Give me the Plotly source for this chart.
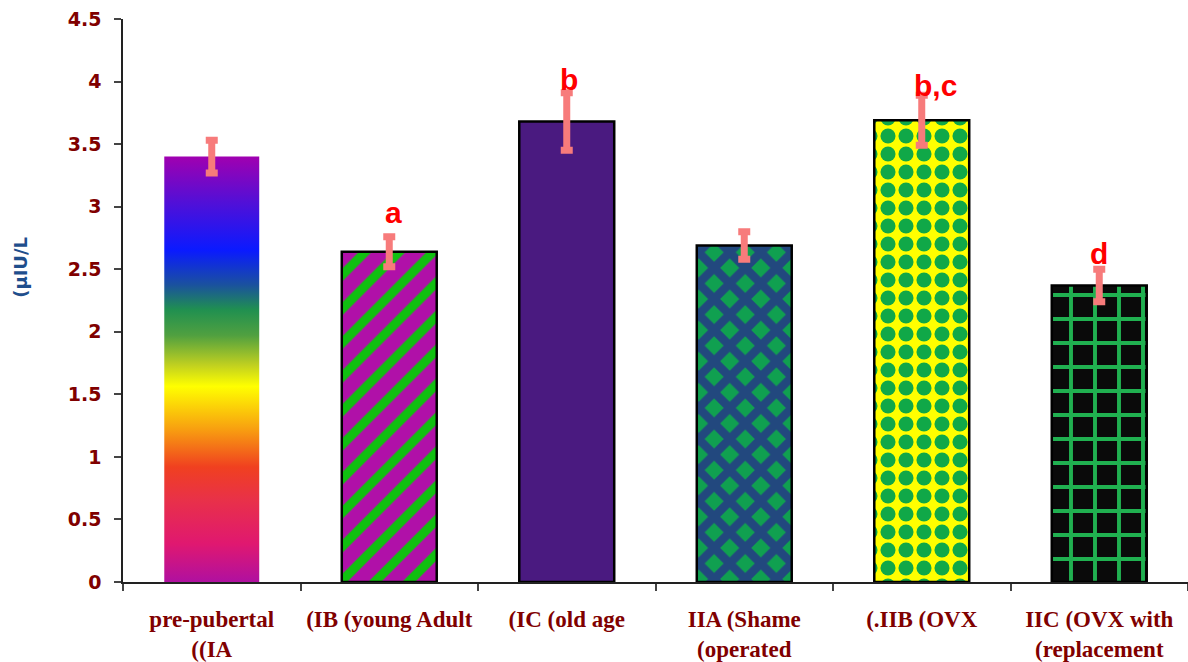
import plotly.graph_objects as go

# ---- data ----
groups = ["pre-pubertal<br>((IA", "(IB (young Adult", "(IC (old age",
          "IIA (Shame<br>(operated", "(.IIB (OVX", "IIC (OVX with<br>(replacement"]
values = [3.40, 2.64, 3.68, 2.69, 3.69, 2.37]
errors = [0.13, 0.12, 0.23, 0.11, 0.20, 0.13]
letters = ["", "a", "b", "", "b,c", "d"]
y_ticks = [0, 0.5, 1, 1.5, 2, 2.5, 3, 3.5, 4, 4.5]
y_title = "(μIU/L"

# ---- styles ----
idx = list(range(len(groups)))
bar_w = 0.535
rainbow = [[0.00, "#b010a0"], [0.09, "#e01870"], [0.19, "#e8304a"], [0.27, "#f04020"],
           [0.36, "#f8a010"], [0.46, "#ffff00"], [0.51, "#c0d020"], [0.58, "#50a040"],
           [0.64, "#209050"], [0.70, "#1a50a0"], [0.78, "#0a1aff"], [0.89, "#5010d8"],
           [1.00, "#a000b0"]]
# style for bars 1..5
pat_shape = ["/", "", "x", ".", "+"]
pat_bg = ["#b010a8", "#4a1a80", "#10a050", "#ffff00", "#0a0a0a"]
pat_fg = ["#10c010", "#4a1a80", "#22487e", "#10a848", "#20b050"]
pat_size = [24, 10, 22, 18, 24]
pat_sol = [0.38, 0.3, 0.62, 0.55, 0.3]
letter_dx = [0, 4, 2, 0, 14, 0]
letter_dy = [0, 6, -5, 0, -9, -3]

fig = go.Figure()

# IA bar with vertical rainbow gradient (polygon derived from the data value)
x0 = idx[0]
fig.add_trace(go.Scatter(
    x=[x0 - bar_w / 2, x0 - bar_w / 2, x0 + bar_w / 2, x0 + bar_w / 2, x0 - bar_w / 2],
    y=[0, values[0], values[0], 0, 0],
    mode="lines", line=dict(width=0), fill="toself",
    fillgradient=dict(type="vertical", colorscale=rainbow, start=0, stop=values[0]),
    hoverinfo="skip", showlegend=False))

# the patterned bars, one trace each
for k, i in enumerate(idx[1:]):
    pat = dict(shape=pat_shape[k], fgcolor=pat_fg[k], bgcolor=pat_bg[k], fgopacity=1,
               size=pat_size[k], solidity=pat_sol[k], fillmode="overlay")
    fig.add_trace(go.Bar(
        x=[i], y=[values[i]], width=bar_w,
        marker=dict(color=pat_bg[k], line=dict(color="#000000", width=2.5), pattern=pat),
        showlegend=False))

# error bars on top of everything
fig.add_trace(go.Scatter(
    x=idx, y=values, mode="markers", marker=dict(size=1, opacity=0),
    error_y=dict(type="data", array=errors, color="#f77b7b", thickness=7, width=6),
    hoverinfo="skip", showlegend=False))

for i, lab in enumerate(letters):
    if lab:
        fig.add_annotation(x=idx[i], y=values[i] + errors[i], text=lab, showarrow=False,
                           xanchor="center", yanchor="bottom",
                           xshift=letter_dx[i], yshift=letter_dy[i],
                           font=dict(family="Liberation Sans, Arial", size=30,
                                     color="#ff0000", weight="bold"))

fig.add_annotation(x=0, xref="paper", xanchor="center", xshift=-102,
                   y=0.558, yref="paper", yanchor="middle",
                   text=y_title, textangle=-90, showarrow=False,
                   font=dict(family="DejaVu Sans", size=18, color="#1f4e8c", weight="bold"))

fig.update_layout(
    width=1188, height=662,
    margin=dict(l=123, r=0, t=19, b=80),
    paper_bgcolor="white", plot_bgcolor="white",
    barmode="overlay",
    xaxis=dict(range=[-0.5, len(groups) - 0.5], tickvals=idx, ticktext=groups,
               ticks="", showgrid=False, zeroline=False,
               showline=True, linecolor="#222222", linewidth=1.5,
               tickfont=dict(family="Liberation Serif, Times New Roman", size=23,
                             color="#800000", weight="bold"),
               ticklabelstandoff=16,
               minor=dict(tickvals=[i - 0.5 for i in range(len(groups) + 1)],
                          ticks="outside", ticklen=7, tickwidth=1.5, tickcolor="#444444",
                          showgrid=False)),
    yaxis=dict(range=[0, 4.5], tickvals=y_ticks,
               ticks="outside", ticklen=7, tickwidth=1.5, tickcolor="#444444",
               showgrid=False, zeroline=False,
               showline=True, linecolor="#222222", linewidth=1.5,
               tickfont=dict(family="DejaVu Sans", size=19, color="#800000", weight="bold"),
               ticklabelstandoff=9),
)

fig.write_html("out.html", config={"displayModeBar": False},
               post_script="document.body.style.margin='0';")
